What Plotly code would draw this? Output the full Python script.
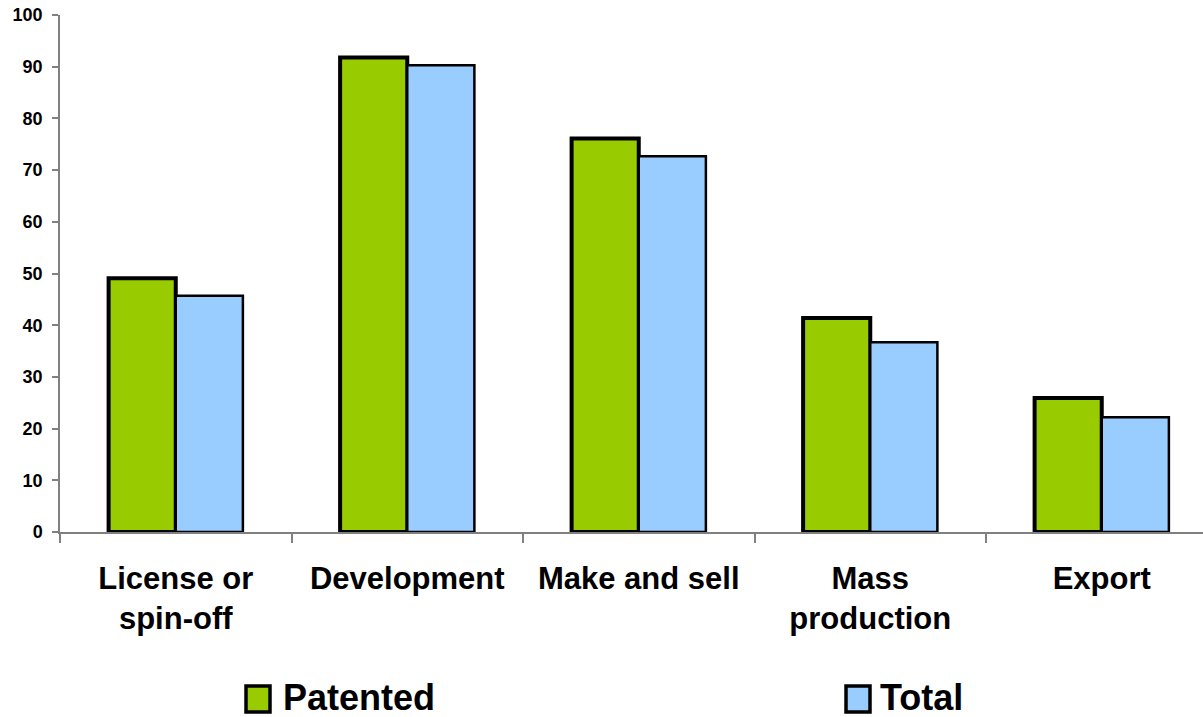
import plotly.graph_objects as go

categories = ["License or<br>spin-off", "Development", "Make and sell", "Mass<br>production", "Export"]
series_names = ["Patented", "Total"]
patented = [49.1, 91.8, 76.1, 41.4, 25.9]
total = [45.7, 90.3, 72.7, 36.7, 22.2]
y_ticks = [0, 10, 20, 30, 40, 50, 60, 70, 80, 90, 100]

colors = ["#99CC00", "#99CCFF"]
line_widths = [4, 2.5]

W, H = 1203, 717
L, R, T, B = 60, 0, 15, 185
pw, ph = W - L - R, H - T - B

fig = go.Figure()
for name, vals, c, lw in zip(series_names, [patented, total], colors, line_widths):
    fig.add_trace(go.Bar(x=categories, y=vals, name=name,
                         marker=dict(color=c, line=dict(color="black", width=lw)),
                         showlegend=False))

fig.update_layout(
    width=W, height=H,
    margin=dict(l=L, r=R, t=T, b=B, autoexpand=False),
    paper_bgcolor="white", plot_bgcolor="white",
    barmode="group", bargap=0.42, bargroupgap=0,
    font=dict(family="Liberation Sans, Arial, sans-serif", color="black"),
)
cat_w = 231.5
fig.update_xaxes(
    range=[-0.5, -0.5 + pw / cat_w],
    showline=True, linecolor="#808080", linewidth=1.5,
    ticks="outside", tickson="boundaries", ticklen=9, tickcolor="#808080", tickwidth=1.5,
    tickfont=dict(size=31, family="Liberation Sans, Arial, sans-serif", color="black", weight="bold"),
    ticklabelstandoff=18,
    showgrid=False, zeroline=False,
)
fig.update_yaxes(
    range=[0, 100], tickvals=y_ticks,
    showline=True, linecolor="#808080", linewidth=1.5,
    ticks="outside", ticklen=6, tickcolor="#808080", tickwidth=1.5,
    tickfont=dict(size=18, family="Liberation Sans, Arial, sans-serif", color="black", weight="bold"),
    ticklabelstandoff=6,
    showgrid=False, zeroline=False,
)

def px_x(p):
    return (p - L) / pw

def px_y(p):
    return (H - B - p) / ph

legend_items = [(246, 270, 281), (846, 870, 878)]
for (x0, x1, tx), name, c, lw in zip(legend_items, series_names, colors, line_widths):
    fig.add_shape(type="rect", xref="paper", yref="paper",
                  x0=px_x(x0), x1=px_x(x1), y0=px_y(712), y1=px_y(686),
                  fillcolor=c, line=dict(color="black", width=3.5))
    fig.add_annotation(xref="paper", yref="paper", x=px_x(tx), y=px_y(697),
                       text="<b>" + name + "</b>", showarrow=False,
                       xanchor="left", yanchor="middle",
                       font=dict(size=36, family="Liberation Sans, Arial, sans-serif", color="black"))

fig.write_html("out.html",
               config={"displayModeBar": False},
               post_script="document.body.style.margin='0';document.body.style.padding='0';")
